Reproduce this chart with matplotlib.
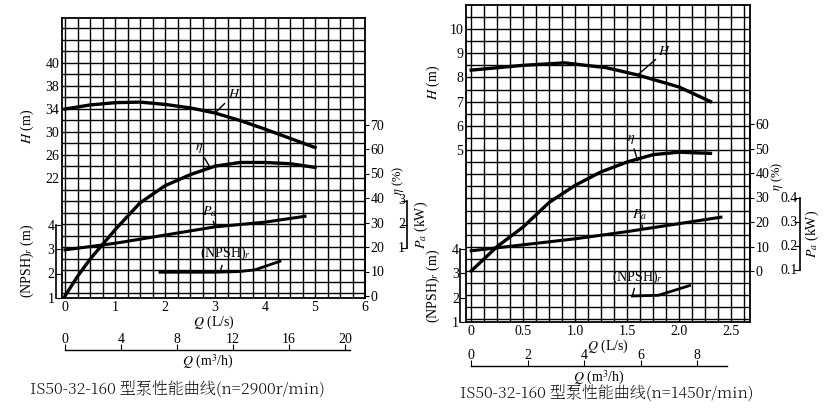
import matplotlib
matplotlib.use("Agg")
import matplotlib.pyplot as plt
import matplotlib.transforms as mtrans
from matplotlib import font_manager as fm
import numpy as np

plt.rcParams["font.family"] = ["Liberation Serif"]
plt.rcParams["mathtext.fontset"] = "stix"

_cjk = [f for f in fm.fontManager.ttflist if "CJK" in f.name]
_cjk_sc = [f for f in _cjk if "SC" in f.name] or _cjk
CJK_PROP = fm.FontProperties(fname=_cjk_sc[0].fname) if _cjk_sc else fm.FontProperties(family="sans-serif")

W, Hpx = 831, 412
# ---------------- data: left (n=2900) ----------------
L_Q_H = [0, 0.5, 1, 1.5, 2, 2.5, 3, 3.5, 4, 4.5, 5]
L_H = [34.0, 34.7, 35.1, 35.2, 34.8, 34.2, 33.3, 32.0, 30.5, 28.9, 27.3]
L_Q_eta = [0, 0.25, 0.5, 1, 1.5, 2, 2.5, 3, 3.5, 4, 4.5, 5]
L_eta = [0, 8, 15, 27, 38, 45, 49.5, 53, 54.5, 54.5, 54, 52.5]
L_Q_Pa = [0, 1, 2, 3, 4, 4.8]
L_Pa = [0.92, 1.2, 1.55, 1.9, 2.1, 2.35]
L_Q_npsh = [1.9, 2.5, 3.0, 3.5, 3.8, 4.3]
L_npsh = [2.05, 2.05, 2.05, 2.08, 2.15, 2.5]
L_Qticks = [0, 1, 2, 3, 4, 5, 6]
L_Hticks = [22, 26, 30, 34, 38, 42]
L_Hlabels = ["22", "26", "30", "34", "38", "40"]
L_eta_ticks = [0, 10, 20, 30, 40, 50, 60, 70]
L_Pa_ticks = [1, 2, 3]
L_npsh_ticks = [1, 2, 3, 4]
L_m3h_ticks = [0, 4, 8, 12, 16, 20]

# ---------------- data: right (n=1450) ----------------
R_Q_H = [0, 0.5, 0.9, 1.0, 1.3, 1.6, 2.0, 2.3]
R_H = [8.3, 8.5, 8.6, 8.55, 8.4, 8.1, 7.6, 7.0]
R_Q_eta = [0, 0.25, 0.5, 0.75, 1.0, 1.25, 1.5, 1.75, 2.0, 2.3]
R_eta = [0, 10, 18, 28, 35, 40.5, 44.5, 47.5, 48.5, 48]
R_Q_Pa = [0, 1.0, 1.5, 2.4]
R_Pa = [0.18, 0.23, 0.26, 0.32]
R_Q_npsh = [1.55, 1.8, 2.1]
R_npsh = [2.07, 2.1, 2.5]
R_Qticks = [0, 0.5, 1.0, 1.5, 2.0, 2.5]
R_Qlabels = ["0", "0.5", "1.0", "1.5", "2.0", "2.5"]
R_Hticks = [5, 6, 7, 8, 9, 10]
R_eta_ticks = [0, 10, 20, 30, 40, 50, 60]
R_Pa_ticks = [0.1, 0.2, 0.3, 0.4]
R_npsh_ticks = [1, 2, 3, 4]
R_m3h_ticks = [0, 2, 4, 6, 8]

fig = plt.figure(figsize=(W / 100, Hpx / 100), dpi=100)


def rect(x0, x1, yt, yb):
    return [x0 / W, 1 - yb / Hpx, (x1 - x0) / W, (yb - yt) / Hpx]


def val_range(v_at, y_at, px_per_unit, yt, yb):
    top = v_at + (y_at - yt) / px_per_unit
    bot = v_at - (yb - y_at) / px_per_unit
    return bot, top


def overlay(r, xlim, ylim):
    a = fig.add_axes(r, facecolor="none")
    a.set_xlim(xlim)
    a.set_ylim(ylim)
    for s in a.spines.values():
        s.set_visible(False)
    a.set_xticks([])
    a.set_yticks([])
    return a


def lab(ax, spec, text):
    (xp, yp), (xt, yt) = spec
    ax.annotate(text, xy=(xp, yp), xytext=(xt, yt), fontsize=10, ha="left", va="bottom",
                arrowprops=dict(arrowstyle="-", color="black", lw=1.0, shrinkA=0, shrinkB=0))


def frac(ax, v):
    lo, hi = ax.get_ylim()
    return (v - lo) / (hi - lo)


def panel(x0, x1, yt, yb, xlim, Hmap, etamap, Pamap, npmap, d, grid_dx, grid_dy):
    r = rect(x0, x1, yt, yb)
    ax = fig.add_axes(r)
    ax.set_xlim(xlim)
    ylimH = val_range(*Hmap, yt, yb)
    ax.set_ylim(ylimH)
    xs = np.arange(0, xlim[1] + 1e-6, grid_dx)
    for xv in xs:
        ax.axvline(xv, color="black", lw=1.0)
    ys = np.concatenate([np.arange(Hmap[0], ylimH[1], grid_dy),
                         np.arange(Hmap[0] - grid_dy, ylimH[0], -grid_dy)])
    for yv in ys:
        ax.axhline(yv, color="black", lw=1.0)
    for s in ax.spines.values():
        s.set_linewidth(1.3)
    ax.set_xticks(d["Qticks"])
    ax.set_xticklabels(d["Qlabels"], fontsize=10)
    ax.tick_params(axis="x", length=0, pad=2)
    ax.set_yticks(d["Hticks"])
    ax.set_yticklabels(d["Hlabels"], fontsize=10)
    ax.tick_params(axis="y", length=0, pad=2)
    ax.set_ylabel("$H$ (m)", fontsize=10)
    ax.yaxis.set_label_coords(-0.085, frac(ax, d["Hlabpos"]))
    ax.set_xlabel("$Q$ (L/s)", fontsize=10, labelpad=0)
    ax.plot(d["QH"], d["H"], color="black", lw=2.4)
    lab(ax, d["Hlab"], "$H$")

    ae = overlay(r, xlim, val_range(*etamap, yt, yb))
    ae.plot(d["Qeta"], d["eta"], color="black", lw=2.4)
    ae.spines["right"].set_visible(True)
    ae.spines["right"].set_bounds(0, d["eta_ticks"][-1])
    ae.spines["right"].set_linewidth(1.3)
    ae.yaxis.tick_right()
    ae.set_yticks(d["eta_ticks"])
    ae.set_yticklabels([str(t) for t in d["eta_ticks"]], fontsize=10)
    ae.tick_params(axis="y", length=3, pad=1)
    lab(ae, d["etalab"], r"$\eta$")

    ap = overlay(r, xlim, val_range(*Pamap, yt, yb))
    ap.plot(d["QPa"], d["Pa"], color="black", lw=2.2)
    lab(ap, d["Palab"], "$P_a$")
    ap.spines["right"].set_visible(True)
    ap.spines["right"].set_position(("axes", d["Pa_pos"]))
    ap.spines["right"].set_bounds(d["Pa_ticks"][0], d["Pa_ticks"][-1])
    ap.spines["right"].set_linewidth(1.2)
    ap.yaxis.tick_right()
    ap.set_yticks(d["Pa_ticks"])
    ap.set_yticklabels([])
    ap.tick_params(axis="y", direction="in", length=4)
    tr = mtrans.blended_transform_factory(ap.transAxes, ap.transData)
    for t, s in zip(d["Pa_ticks"], d["Pa_labels"]):
        ap.text(d["Pa_pos"] - 0.008, t, s, transform=tr, fontsize=10, ha="right", va="center")
    ap.text(d["Pa_pos"] + 0.045, np.mean(d["Pa_ticks"]), "$P_a$ (kW)", transform=tr, rotation=90,
            fontsize=10, ha="center", va="center")
    ap.text(d["Pa_pos"] - d["etapct_dx"], d["Pa_ticks"][-1] + d["etapct_dy"], r"$\eta$ (%)",
            transform=tr, rotation=90, fontsize=9, ha="center", va="bottom")

    an = overlay(r, xlim, val_range(*npmap, yt, yb))
    an.plot(d["Qnp"], d["np"], color="black", lw=2.0)
    lab(an, d["nplab"], "(NPSH)$_r$")
    an.spines["left"].set_visible(True)
    an.spines["left"].set_position(("axes", -0.02))
    an.spines["left"].set_bounds(1, 4)
    an.spines["left"].set_linewidth(1.2)
    an.set_yticks(d["np_ticks"])
    an.set_yticklabels([str(t) for t in d["np_ticks"]], fontsize=10)
    an.tick_params(axis="y", length=4, direction="in", pad=1)
    an.set_ylabel("(NPSH)$_r$ (m)", fontsize=10)
    an.yaxis.set_label_coords(-0.085, frac(an, 2.5))

    my = d["m3_y"]
    am = fig.add_axes(rect(d["m3_x0"], d["m3_x1"], my - 1, my), facecolor="none")
    am.set_xlim(0, (d["m3_x1"] - d["m3_x0"]) / d["m3_ppu"])
    for k in ["top", "left", "right"]:
        am.spines[k].set_visible(False)
    am.spines["bottom"].set_linewidth(1.0)
    am.set_yticks([])
    am.set_xticks(d["m3_ticks"])
    am.set_xticklabels([str(t) for t in d["m3_ticks"]], fontsize=10)
    am.tick_params(axis="x", direction="in", length=4, labelbottom=False, labeltop=True, top=False,
                   bottom=True, pad=2)
    am.set_xlabel("$Q$ (m$^3$/h)", fontsize=10, labelpad=2)
    prop = CJK_PROP.copy()
    prop.set_size(11.5)
    fig.text(d["cap_x"] / W, 1 - d["cap_y"] / Hpx, d["caption"], ha="left", va="center",
             fontproperties=prop)


left = dict(
    Qticks=L_Qticks, Qlabels=[str(t) for t in L_Qticks], Hticks=L_Hticks, Hlabels=L_Hlabels, Hlabpos=31,
    QH=L_Q_H, H=L_H, Hlab=((3.0, 33.3), (3.25, 35.4)),
    Qeta=L_Q_eta, eta=L_eta, etalab=((2.9, 52.5), (2.6, 57.5)), eta_ticks=L_eta_ticks,
    QPa=L_Q_Pa, Pa=L_Pa, Palab=((3.0, 1.9), (2.75, 2.25)), Pa_ticks=L_Pa_ticks,
    Pa_labels=[str(t) for t in L_Pa_ticks], Pa_pos=1.14, etapct_dx=0.03, etapct_dy=0.25,
    Qnp=L_Q_npsh, np=L_npsh, nplab=((3.1, 2.05), (2.7, 2.45)), np_ticks=L_npsh_ticks,
    m3_x0=65, m3_x1=350, m3_ppu=14.0, m3_ticks=L_m3h_ticks, m3_y=350, cap_x=30, cap_y=390,
    caption="IS50-32-160 型泵性能曲线(n=2900r/min)",
)
right = dict(
    Qticks=R_Qticks, Qlabels=R_Qlabels, Hticks=R_Hticks, Hlabels=[str(t) for t in R_Hticks], Hlabpos=7.8,
    QH=R_Q_H, H=R_H, Hlab=((1.6, 8.1), (1.8, 8.8)),
    Qeta=R_Q_eta, eta=R_eta, etalab=((1.6, 45.0), (1.5, 51)),
    eta_ticks=R_eta_ticks,
    QPa=R_Q_Pa, Pa=R_Pa, Palab=((1.65, 0.27), (1.55, 0.3)), Pa_ticks=R_Pa_ticks,
    Pa_labels=[str(t) for t in R_Pa_ticks], Pa_pos=1.176, etapct_dx=0.08, etapct_dy=0.03,
    Qnp=R_Q_npsh, np=R_npsh, nplab=((1.55, 2.07), (1.35, 2.5)), np_ticks=R_npsh_ticks,
    m3_x0=471, m3_x1=727, m3_ppu=28.3, m3_ticks=R_m3h_ticks, m3_y=366, cap_x=460, cap_y=394,
    caption="IS50-32-160 型泵性能曲线(n=1450r/min)",
)

panel(62, 365, 18, 298, (-0.06, 6.0),
      (22, 178, 5.75), (0, 296, 2.45), (1, 248, 23.5), (1, 298, 24.5),
      left, 0.25, 2.0)
panel(466, 750, 5, 322, (-0.05, 2.68),
      (5, 150, 24.2), (0, 271, 2.45), (0.1, 270, 240), (1, 322, 24.3),
      right, 0.125, 0.5)

fig.savefig("out.png", dpi=100)
